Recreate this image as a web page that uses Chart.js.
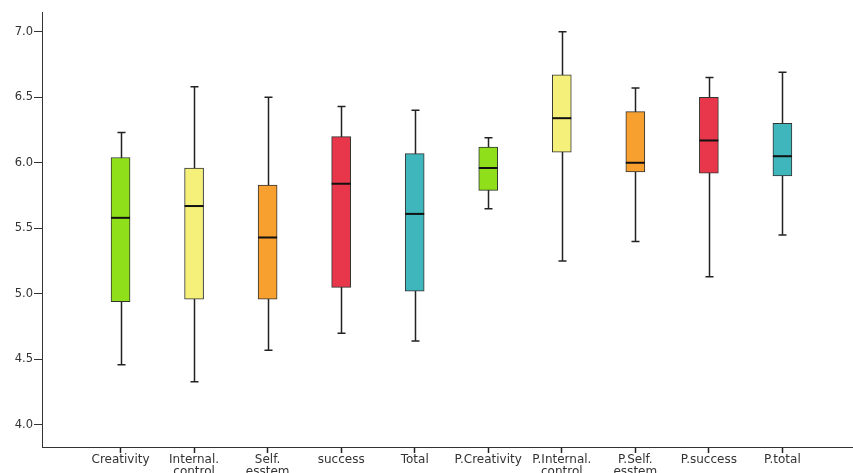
<!DOCTYPE html>
<html>
<head>
<meta charset="utf-8">
<script src="https://cdn.jsdelivr.net/npm/chart.js@4.4.1/dist/chart.umd.min.js"></script>
<style>
  body { margin: 0; background: #fff; }
  canvas { display: block; }
</style>
</head>
<body>
<canvas id="box" width="853" height="473"></canvas>
<script>
// categories and five-number summaries
const categories = [
    ["Creativity"], ["Internal.", "control"], ["Self.", "esstem"], ["success"], ["Total"],
    ["P.Creativity"], ["P.Internal.", "control"], ["P.Self.", "esstem"], ["P.success"], ["P.total"]
];
const mins    = [4.46, 4.33, 4.57, 4.70, 4.64, 5.65, 5.25, 5.40, 5.13, 5.45];
const q1s     = [4.94, 4.96, 4.96, 5.05, 5.02, 5.79, 6.08, 5.93, 5.92, 5.90];
const medians = [5.58, 5.67, 5.43, 5.84, 5.61, 5.96, 6.34, 6.00, 6.17, 6.05];
const q3s     = [6.04, 5.96, 5.83, 6.20, 6.07, 6.12, 6.67, 6.39, 6.50, 6.30];
const maxs    = [6.23, 6.58, 6.50, 6.43, 6.40, 6.19, 7.00, 6.57, 6.65, 6.69];
const yTicks  = [4.0, 4.5, 5.0, 5.5, 6.0, 6.5, 7.0];

const boxColors = ["#8fe01a", "#f5f07a", "#f7a030", "#e8374a", "#3fb6bb",
                   "#8fe01a", "#f5f07a", "#f7a030", "#e8374a", "#3fb6bb"];

const whiskers = {
    id: "whiskers",
    beforeDatasetsDraw(chart) {
        const ctx = chart.ctx, xs = chart.scales.x, ys = chart.scales.y;
        ctx.save();
        ctx.strokeStyle = "#222";
        ctx.lineWidth = 1.5;
        categories.forEach((c, i) => {
            const x = Math.round(xs.getPixelForValue(i)) + 0.5;
            const top = ys.getPixelForValue(maxs[i]);
            const bot = ys.getPixelForValue(mins[i]);
            ctx.beginPath();
            ctx.moveTo(x, top);
            ctx.lineTo(x, bot);
            ctx.moveTo(x - 4, top);
            ctx.lineTo(x + 4, top);
            ctx.moveTo(x - 4, bot);
            ctx.lineTo(x + 4, bot);
            ctx.stroke();
        });
        ctx.restore();
    },
    afterDatasetsDraw(chart) {
        const ctx = chart.ctx, xs = chart.scales.x, ys = chart.scales.y;
        ctx.save();
        ctx.strokeStyle = "#111";
        ctx.lineWidth = 2;
        categories.forEach((c, i) => {
            const x = xs.getPixelForValue(i);
            const y = ys.getPixelForValue(medians[i]);
            ctx.beginPath();
            ctx.moveTo(x - 9.5, y);
            ctx.lineTo(x + 9.5, y);
            ctx.stroke();
        });
        ctx.restore();
    }
};

new Chart(document.getElementById("box"), {
    type: "bar",
    data: {
        datasets: [{
            data: categories.map((c, i) => ({ x: i, y: [q1s[i], q3s[i]] })),
            backgroundColor: boxColors,
            borderColor: "#333",
            borderWidth: 1,
            borderSkipped: false,
            barThickness: 19
        }]
    },
    options: {
        responsive: false,
        animation: false,
        layout: { padding: { top: 12, right: 0, left: 0, bottom: 0 } },
        plugins: { legend: { display: false }, tooltip: { enabled: false } },
        scales: {
            x: {
                type: "linear",
                offset: false,
                min: -1.068,
                max: 9.96,
                afterBuildTicks: s => { s.ticks = categories.map((c, i) => ({ value: i })); },
                afterFit: s => { s.height = 26; },
                grid: { drawOnChartArea: false, offset: false, color: "#222", tickColor: "#222", tickWidth: 1.5, tickLength: 6 },
                border: { color: "#333", width: 1 },
                ticks: {
                    callback: (v, i) => categories[i],
                    autoSkip: false,
                    maxRotation: 0,
                    padding: 1,
                    color: "#333",
                    font: { family: "DejaVu Sans", size: 12, lineHeight: 1.0 }
                }
            },
            y: {
                min: 3.832,
                max: 7.15,
                afterBuildTicks: s => { s.ticks = yTicks.map(v => ({ value: v })); },
                afterFit: s => { s.width = 42; },
                grid: { drawOnChartArea: false, color: "#333", tickLength: 8 },
                border: { color: "#333", width: 1 },
                ticks: {
                    callback: v => v.toFixed(1),
                    padding: 1,
                    color: "#333",
                    font: { family: "DejaVu Sans", size: 11.5 }
                }
            }
        }
    },
    plugins: [whiskers]
});
</script>
</body>
</html>
